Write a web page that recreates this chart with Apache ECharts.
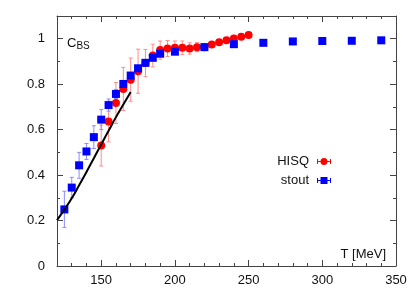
<!DOCTYPE html>
<html><head><meta charset="utf-8">
<script src="https://cdn.jsdelivr.net/npm/echarts@6/dist/echarts.min.js"></script>
<style>html,body{margin:0;padding:0;background:#fff}#c{width:420px;height:294px}</style>
</head><body><div id="c"></div>
<script>
var hisqT = [150,155,160,165,170,175,180,185,190,195,200,205,210,215,220,225,230,235,240,245,250];
var hisqC = [0.53,0.636,0.717,0.779,0.82,0.857,0.893,0.926,0.95,0.957,0.96,0.96,0.957,0.963,0.963,0.975,0.984,0.993,1.001,1.009,1.016];
var hisqErr = [0.09,0.09,0.09,0.095,0.095,0.097,0.06,0.05,0.04,0.035,0.03,0.03,0.025,0.02,0.015,0.012,0.01,0.01,0.01,0.008,0.008];
var stoutT = [125,130,135,140,145,150,155,160,165,170,175,180,185,190,200,220,240,260,280,300,320,340];
var stoutC = [0.249,0.345,0.443,0.504,0.567,0.644,0.708,0.757,0.801,0.838,0.870,0.894,0.916,0.934,0.943,0.963,0.976,0.982,0.988,0.99,0.991,0.993];
var stoutErr = [0.08,0.045,0.057,0.035,0.05,0.044,0.027,0.02,0.015,0.012,0.01,0.01,0.01,0.01,0.01,0.008,0.006,0.005,0.005,0.005,0.005,0.005];
var lineT = [120,125,130,135,140,145,150,155,160,165,170];
var lineC = [0.202,0.248,0.298,0.355,0.414,0.474,0.535,0.595,0.655,0.711,0.766];
var xLabels = [150,200,250,300,350];
var yLabels = [0,0.2,0.4,0.6,0.8,1];

var FONT = 'Liberation Sans';
var AX = '#444';
function zip(a,b){return a.map(function(v,i){return [v,b[i]];});}
function errData(t,c,e){return t.map(function(v,i){return [v,c[i]-e[i],c[i]+e[i]];});}
function errSeries(data,color){
  return {type:'custom', data:data, silent:true, z:2,
    renderItem:function(params,api){
      var x=api.value(0), lo=api.coord([x,api.value(1)]), hi=api.coord([x,api.value(2)]);
      var s={stroke:color,lineWidth:1};
      return {type:'group',children:[
        {type:'line',shape:{x1:lo[0],y1:lo[1],x2:hi[0],y2:hi[1]},style:s},
        {type:'line',shape:{x1:lo[0]-2,y1:lo[1],x2:lo[0]+2,y2:lo[1]},style:s},
        {type:'line',shape:{x1:hi[0]-2,y1:hi[1],x2:hi[0]+2,y2:hi[1]},style:s}
      ]};
    }};
}
function xAx(pos, major, labels){
  return {type:'value', position:pos, min:120, max:350, interval:10,
    axisLine:{show:!major, onZero:false, lineStyle:{color:AX,width:1}},
    axisTick:major?{show:true,inside:true,length:6,customValues:xLabels,lineStyle:{color:AX}}
                  :{show:true,inside:true,length:3,lineStyle:{color:AX}},
    axisLabel:labels?{show:true,customValues:xLabels,margin:8,fontFamily:FONT,fontSize:13,color:'#111'}:{show:false},
    splitLine:{show:false}};
}
function yAx(pos, major, labels){
  return {type:'value', position:pos, min:0, max:1.1, interval:0.1,
    axisLine:{show:!major, onZero:false, lineStyle:{color:AX,width:1}},
    axisTick:major?{show:true,inside:true,length:6,customValues:yLabels,lineStyle:{color:AX}}
                  :{show:true,inside:true,length:3,lineStyle:{color:AX}},
    axisLabel:labels?{show:true,customValues:yLabels,margin:12,fontFamily:FONT,fontSize:13,color:'#111',
       formatter:function(v){return String(Math.round(v*10)/10);}}:{show:false},
    splitLine:{show:false}};
}
var hisqIcon = 'path://M0,3.5h3.6v1h-3.6z M10.4,3.5h3.6v1h-3.6z M0,1.5h1v5h-1z M13,1.5h1v5h-1z M7,0.5 a3.5,3.5 0 1,1 -0.01,0z';
var stoutIcon = 'path://M0,3.5h3.6v1h-3.6z M10.4,3.5h3.6v1h-3.6z M0,1.5h1v5h-1z M13,1.5h1v5h-1z M3.5,0.5h7v7h-7z';
var chart = echarts.init(document.getElementById('c'),null,{renderer:'canvas'});
chart.setOption({
  animation:false,
  grid:{left:57,right:24,top:16,bottom:28,containLabel:false},
  title:{text:'{c|C}{s|BS}', left:62, top:30,
    textStyle:{fontWeight:'normal',rich:{c:{fontFamily:FONT,fontSize:13,fontWeight:'normal',color:'#111'},s:{fontFamily:FONT,fontSize:10,fontWeight:'normal',color:'#111',verticalAlign:'bottom',padding:[6,0,0,0]}}}},
  graphic:[{type:'text', right:34, top:248, style:{text:'T [MeV]', font:'13px "Liberation Sans"', fill:'#111'}}],
  legend:{orient:'vertical', right:84, top:150, align:'right', itemGap:6, itemWidth:14, itemHeight:8,
    data:[{name:'HISQ',icon:hisqIcon},{name:'stout',icon:stoutIcon}], selectedMode:false,
    textStyle:{fontFamily:FONT,fontSize:13,color:'#111',padding:[0,3,0,0]}},
  xAxis:[xAx('bottom',false,true), xAx('bottom',true,false), xAx('top',false,false), xAx('top',true,false)],
  yAxis:[yAx('left',false,true), yAx('left',true,false), yAx('right',false,false), yAx('right',true,false)],
  series:[
    errSeries(errData(hisqT,hisqC,hisqErr),'#ff8c8c'),
    {name:'HISQ', type:'scatter', data:zip(hisqT,hisqC), symbol:'circle', symbolSize:8, z:3,
      itemStyle:{color:'#ff0000',opacity:1}},
    errSeries(errData(stoutT,stoutC,stoutErr),'#8c8cff'),
    {name:'stout', type:'scatter', data:zip(stoutT,stoutC), symbol:'rect', symbolSize:8, z:4,
      itemStyle:{color:'#0000ff',opacity:1}},
    {type:'line', data:zip(lineT,lineC), smooth:true, symbol:'none', z:5,
      lineStyle:{color:'#000',width:2}}
  ]
});
</script></body></html>
